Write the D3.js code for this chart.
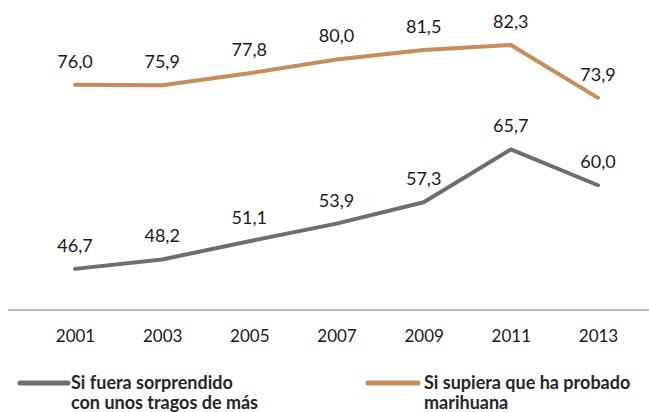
<!DOCTYPE html>
<html>
<head>
<meta charset="utf-8">
<script src="https://cdn.jsdelivr.net/npm/d3@7"></script>
<style>
  body { margin: 0; background: #fff; }
  text { font-family: Lato, "Open Sans", sans-serif; fill: #1a1a1a; }
  .value-label { font-size: 18px; }
  .tick text { font-size: 17px; }
  .legend-text { font-size: 18px; font-weight: bold; fill: #262626; }
</style>
</head>
<body>
<div id="chart"></div>
<script>
//Data
const years = ["2001","2003","2005","2007","2009","2011","2013"]
const drinks = [46.7, 48.2, 51.1, 53.9, 57.3, 65.7, 60.0]
const marijuana = [76.0, 75.9, 77.8, 80.0, 81.5, 82.3, 73.9]
const seriesNames = [["Si fuera sorprendido", "con unos tragos de más"], ["Si supiera que ha probado", "marihuana"]]
const colors = ["#6e6e6e", "#c68c5c"]

const width = 649
const height = 412

const svg = d3.select("#chart")
    .append("svg")
    .attr("width", width)
    .attr("height", height)

//Scales
const xScale = d3.scalePoint()
    .domain(years)
    .range([75, 598])

const yScale = d3.scaleLinear()
    .domain([40, 90])
    .range([311, -3.4])

const fmt = d => d.toFixed(1).replace(".", ",")

//Axis line
svg.append("line")
    .attr("x1", 8).attr("x2", width)
    .attr("y1", 310).attr("y2", 310)
    .style("stroke", "#7a7a7a")
    .style("stroke-width", 1)

//Axis labels
const xAxis = svg.append("g")
    .attr("class", "x-axis")
    .attr("transform", "translate(0,310)")
    .call(d3.axisBottom(xScale).tickSize(0).tickPadding(20))
xAxis.select(".domain").remove()
xAxis.selectAll("text").attr("fill", "#1a1a1a")

//Lines
const line = d3.line()
    .x((d, i) => xScale(years[i]))
    .y(d => yScale(d))

;[drinks, marijuana].forEach((values, s) => {
    svg.append("path")
        .datum(values)
        .attr("d", line)
        .style("fill", "none")
        .style("stroke", colors[s])
        .style("stroke-width", 4)
        .style("stroke-linejoin", "round")
        .style("stroke-linecap", "round")

    svg.selectAll(".value-label-" + s)
        .data(values)
        .enter().append("text")
        .attr("class", "value-label value-label-" + s)
        .attr("x", (d, i) => xScale(years[i]))
        .attr("y", d => yScale(d) - 17)
        .attr("text-anchor", "middle")
        .text(d => fmt(d))
})

//Legend
const legendX = [[20, 68, 71], [368, 418, 424]]
seriesNames.forEach((names, s) => {
    const g = svg.append("g")
    g.append("line")
        .attr("x1", legendX[s][0]).attr("x2", legendX[s][1])
        .attr("y1", 383).attr("y2", 383)
        .style("stroke", colors[s])
        .style("stroke-width", 5)
        .style("stroke-linecap", "round")
    names.forEach((n, k) => {
        g.append("text")
            .attr("class", "legend-text")
            .attr("x", legendX[s][2])
            .attr("y", 389 + k * 20)
            .text(n)
    })
})
</script>
</body>
</html>
